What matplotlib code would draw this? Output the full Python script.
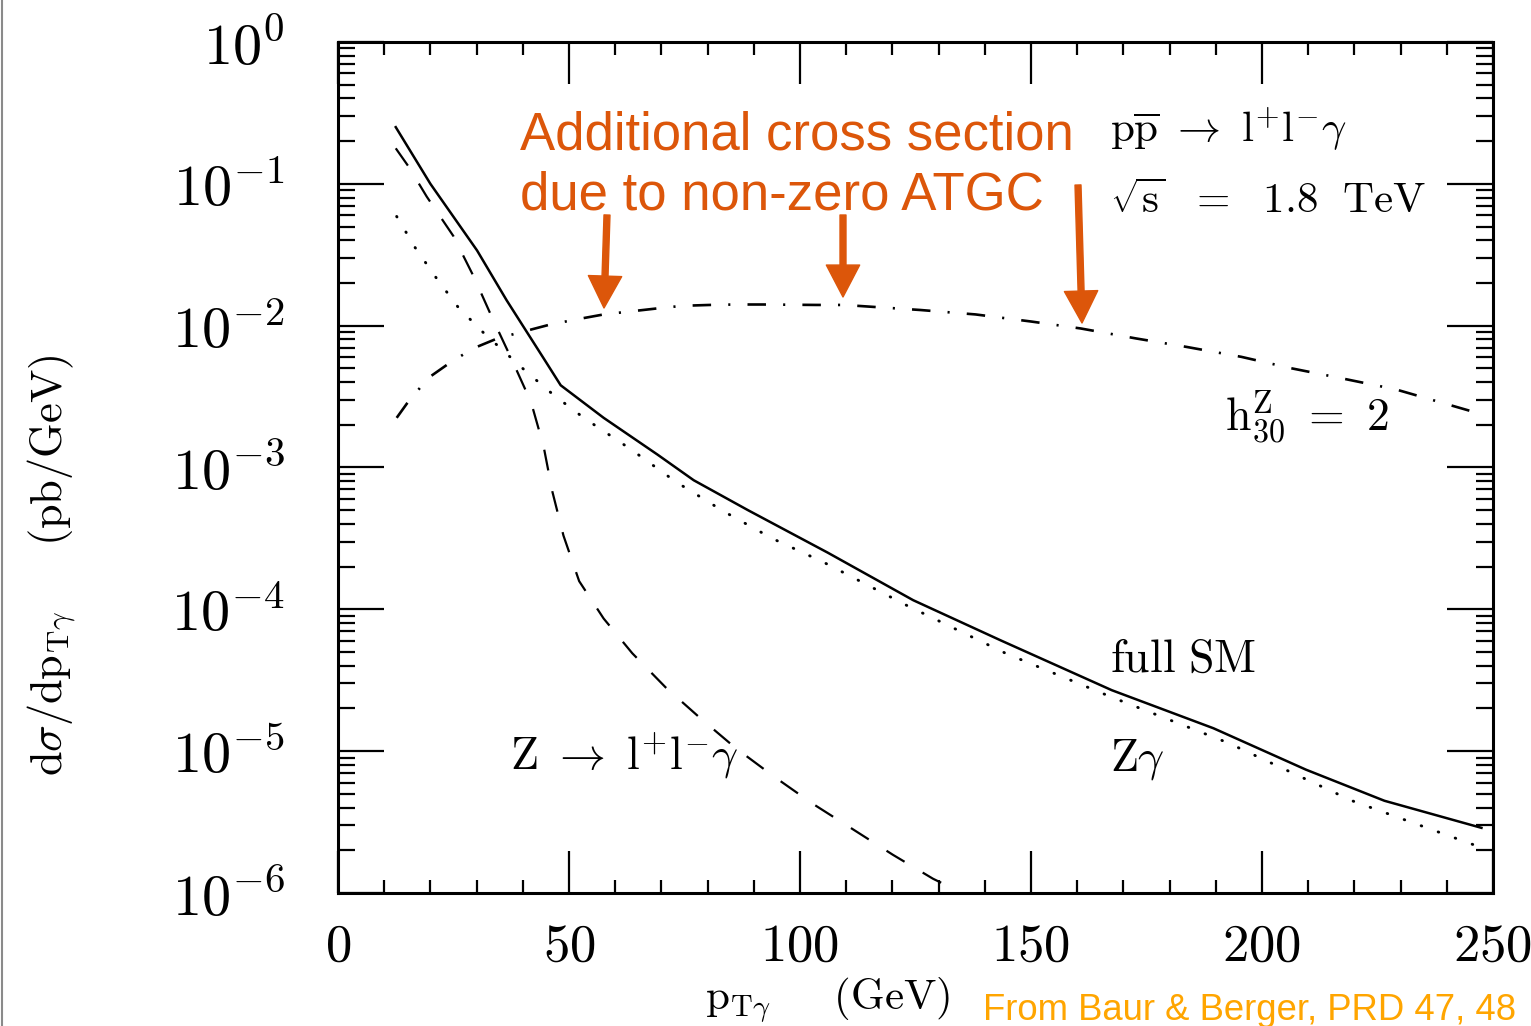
import matplotlib
matplotlib.use('Agg')
import matplotlib.pyplot as plt
from matplotlib.ticker import FixedLocator, MultipleLocator, LogLocator, FixedFormatter, NullFormatter
from matplotlib.lines import Line2D

plt.rcParams['mathtext.fontset'] = 'cm'
plt.rcParams['font.family'] = ['DejaVu Serif']

# ---------------- data ----------------
# full SM (solid)
sm_x = [12.5, 20, 30.1, 36.5, 40, 44.5, 48.2, 57.5, 69.2, 77, 88.7, 106, 124.5,
        143.5, 167.5, 189.5, 209.5, 226.5, 247.5]
sm_y = [0.251, 0.100, 3.39e-2, 1.51e-2, 1.00e-2, 5.89e-3, 3.80e-3, 2.24e-3, 1.23e-3,
        8.13e-4, 5.01e-4, 2.51e-4, 1.16e-4, 6.03e-5, 2.69e-5, 1.45e-5, 7.41e-6,
        4.47e-6, 2.88e-6]

# Z gamma (dotted)
zg_x = [12.7, 16.7, 21.4, 26, 31.5, 40.6, 46.7, 53.2, 63.3, 73.1, 83.5, 94, 105.2,
        123, 144.5, 167.5, 192.5, 219.5, 247.5]
zg_y = [5.89e-2, 3.55e-2, 2.14e-2, 1.35e-2, 8.91e-3, 4.79e-3, 3.24e-3, 2.24e-3,
        1.35e-3, 7.94e-4, 4.90e-4, 3.16e-4, 2.14e-4, 1.07e-4, 4.90e-5, 2.40e-5,
        1.15e-5, 4.47e-6, 2.09e-6]

# Z -> l+l-gamma (dashed)
zr_x = [12.5, 15.3, 19.2, 25.0, 29.4, 33.2, 37.7, 41.8, 44.5, 46.4, 48.8, 52.2, 57.5,
        63.7, 70.9, 78.5, 86.1, 94.4, 102.7, 111.4, 120.1, 128.8, 131.3]
zr_y = [0.178, 0.132, 8.13e-2, 4.27e-2, 2.21e-2, 1.17e-2, 5.69e-3, 2.88e-3, 1.41e-3,
        6.76e-4, 3.31e-4, 1.58e-4, 8.61e-5, 4.90e-5, 2.82e-5, 1.70e-5, 1.05e-5,
        6.61e-6, 4.27e-6, 2.82e-6, 1.86e-6, 1.26e-6, 1.15e-6]

# h30^Z = 2 (dash-dot)
h3_x = [12.7, 14.9, 19.5, 24.3, 29.3, 34.5, 46, 51.8, 57.5, 63.3, 68.8, 74.5, 80.5,
        86, 92, 103.5, 109.5, 126, 138, 150, 160.8, 172.7, 183.7, 195.5, 206.3, 217,
        229, 245, 247.7]
h3_y = [2.24e-3, 2.82e-3, 4.27e-3, 5.50e-3, 6.92e-3, 8.13e-3, 1.02e-2, 1.11e-2,
        1.20e-2, 1.26e-2, 1.32e-2, 1.38e-2, 1.40e-2, 1.41e-2, 1.41e-2, 1.40e-2,
        1.40e-2, 1.29e-2, 1.20e-2, 1.07e-2, 9.55e-3, 8.13e-3, 7.08e-3, 6.03e-3,
        5.01e-3, 4.27e-3, 3.55e-3, 2.51e-3, 2.40e-3]

x_ticks = [0, 50, 100, 150, 200, 250]
x_tick_labels = ['$\\mathrm{0}$', '$\\mathrm{50}$', '$\\mathrm{100}$',
                 '$\\mathrm{150}$', '$\\mathrm{200}$', '$\\mathrm{250}$']
y_ticks = [1e-6, 1e-5, 1e-4, 1e-3, 1e-2, 1e-1, 1e0]
y_tick_labels = ['$10^{-6}$', '$10^{-5}$', '$10^{-4}$', '$10^{-3}$',
                 '$10^{-2}$', '$10^{-1}$', '$10^{0}$']

# ---------------- figure ----------------
W, H = 1531, 1026
fig = plt.figure(figsize=(W / 100, H / 100), dpi=100)
ax = fig.add_axes([338 / W, 1 - 893 / H, (1493 - 338) / W, (893 - 42) / H])
ax.set_yscale('log')
ax.set_xlim(0, 250)
ax.set_ylim(1e-6, 1)

ax.plot(sm_x, sm_y, color='black', lw=1.8, solid_joinstyle='round')
ax.plot(zg_x, zg_y, color='black', lw=2.1, linestyle=(0, (0.2, 6.0)),
        dash_capstyle='round')
ax.plot(zr_x, zr_y, color='black', lw=1.6, linestyle=(0, (9.5, 9.5)))
ax.plot(h3_x, h3_y, color='black', lw=1.9, linestyle=(0, (7.0, 6.5, 0.8, 6.5)))

for s in ax.spines.values():
    s.set_linewidth(2.2)

ax.xaxis.set_major_locator(FixedLocator(x_ticks))
ax.xaxis.set_major_formatter(FixedFormatter(x_tick_labels))
ax.xaxis.set_minor_locator(MultipleLocator(10))
ax.yaxis.set_major_locator(FixedLocator(y_ticks))
ax.yaxis.set_major_formatter(FixedFormatter(y_tick_labels))
ax.yaxis.set_minor_locator(LogLocator(base=10, subs=[2, 3, 4, 5, 6, 7, 8, 9], numticks=50))
ax.yaxis.set_minor_formatter(NullFormatter())

ax.tick_params(axis='x', which='major', direction='in', length=30, width=1.6,
               top=True, bottom=True, labelsize=38, pad=20)
ax.tick_params(axis='x', which='minor', direction='in', length=9.5, width=1.6,
               top=True, bottom=True)
ax.tick_params(axis='y', which='major', direction='in', length=33, width=1.6,
               left=True, right=True, labelsize=42, pad=38)
ax.tick_params(axis='y', which='minor', direction='in', length=12, width=1.6,
               left=True, right=True)

# ---------------- labels in the plot ----------------
ax.text(167.1, 3.6e-5, r'$\mathrm{full\ SM}$', fontsize=33, va='baseline')
ax.text(167.1, 7.3e-6, r'$\mathrm{Z}\gamma$', fontsize=33, va='baseline')
ax.text(37.2, 7.4e-6, r'$\mathrm{Z}\ \rightarrow\ \mathrm{l}^{+}\mathrm{l}^{-}\gamma$',
        fontsize=33, va='baseline')
ax.text(192, 1.84e-3, r'$\mathrm{h}_{30}^{\mathrm{Z}}\ =\ 2$', fontsize=33, va='baseline')
ax.text(167.1, 0.197, r'$\mathrm{p\overline{p}}\ \rightarrow\ \mathrm{l}^{+}\mathrm{l}^{-}\gamma$',
        fontsize=31, va='baseline')
ax.text(167.1, 0.0622, r'$\sqrt{\mathrm{s}}\ \ =\ \ 1.8\ \ \mathrm{TeV}$',
        fontsize=31, va='baseline')

# axis labels
fig.text(52 / W, 1 - 565 / H,
         r'$\mathrm{d}\sigma/\mathrm{dp}_{\mathrm{T}\gamma}\quad\ \ (\mathrm{pb/GeV})$',
         rotation=90, ha='center', va='center', fontsize=32)
fig.text(828 / W, 1 - 1000 / H, r'$\mathrm{p}_{\mathrm{T}\gamma}\quad\ \ (\mathrm{GeV})$',
         ha='center', va='center', fontsize=31)

# ---------------- orange annotation ----------------
orange = '#DC560A'
fig.text(520 / W, 1 - 150 / H, 'Additional cross section', color=orange,
         fontsize=38, family='Liberation Sans', va='baseline', ha='left')
fig.text(520 / W, 1 - 210 / H, 'due to non-zero ATGC', color=orange,
         fontsize=38, family='Liberation Sans', va='baseline', ha='left')

for (x0, y0, x1, y1) in [(607, 215, 604, 308), (843, 215, 843, 297), (1078, 185, 1082, 323)]:
    ax.annotate('', xy=(x1, H - y1), xycoords='figure pixels',
                xytext=(x0, H - y0), textcoords='figure pixels',
                arrowprops=dict(facecolor=orange, edgecolor=orange, width=4.3,
                                headwidth=24, headlength=23, shrink=0.0))

fig.text(983 / W, 1 - 1020 / H, 'From Baur & Berger, PRD 47, 48',
         color='#FFA500', fontsize=26.3, family='Liberation Sans', va='baseline', ha='left')

# gray left border of the slide
fig.add_artist(Line2D([0.0012, 0.0012], [0, 1], transform=fig.transFigure,
                      color='#8a8a8a', lw=1.5))

fig.savefig('out.png', dpi=100)
